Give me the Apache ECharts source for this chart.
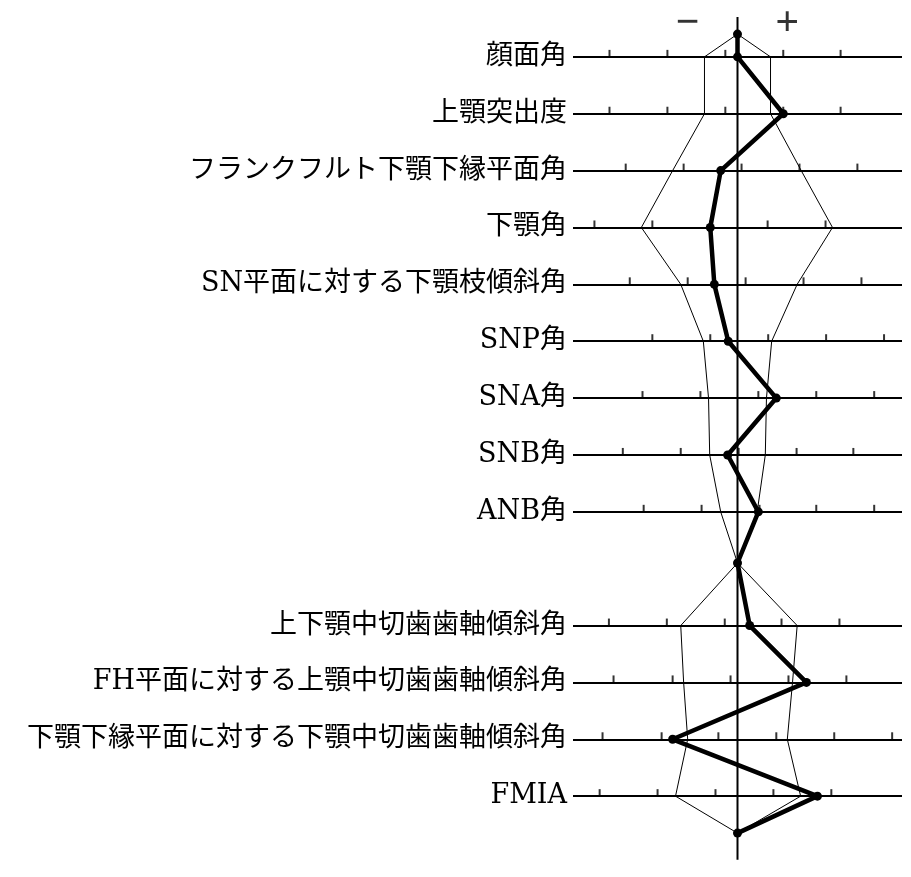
<!DOCTYPE html>
<html>
<head>
<meta charset="utf-8">
<script src="https://cdn.jsdelivr.net/npm/echarts@6/dist/echarts.min.js"></script>
<style>
html, body { margin: 0; padding: 0; background: #fff; }
#chart { width: 911px; height: 877px; }
</style>
</head>
<body>
<div id="chart"></div>
<script>
// measurement names, one per horizontal line (row 10 is the gap)
var rowNames = ['顔面角', '上顎突出度', 'フランクフルト下顎下縁平面角', '下顎角',
	'SN平面に対する下顎枝傾斜角', 'SNP角', 'SNA角', 'SNB角', 'ANB角',
	'上下顎中切歯歯軸傾斜角', 'FH平面に対する上顎中切歯歯軸傾斜角',
	'下顎下縁平面に対する下顎中切歯歯軸傾斜角', 'FMIA'];
var rowPos = [1, 2, 3, 4, 5, 6, 7, 8, 9, 11, 12, 13, 14];

// deviation from the mean, in tick steps
var normLow = [-0.57, -0.57, -1.12, -1.66, -0.98, -0.59, -0.50, -0.48, -0.29,
	-0.98, -0.93, -0.86, -1.07];
var normHigh = [0.57, 0.57, 1.10, 1.64, 1.03, 0.59, 0.50, 0.48, 0.34,
	1.03, 0.95, 0.86, 1.09];
var patient = [0, 0.79, -0.29, -0.47, -0.40, -0.16, 0.67, -0.17, 0.36,
	0.21, 1.19, -1.12, 1.38];

// scale ticks on each line
var tickMarks = [
	[-2.21, -1.21, -0.21, 0.79, 1.78],
	[-2.21, -1.21, -0.21, 0.79, 1.78],
	[-1.93, -0.93, 0.07, 1.07, 2.07],
	[-2.47, -1.47, -0.47, 0.52, 1.52],
	[-1.86, -0.86, 0.14, 1.14, 2.14],
	[-1.47, -0.47, 0.53, 1.53, 2.53],
	[-1.64, -0.64, 0.36, 1.36, 2.36],
	[-1.98, -0.98, 0.02, 1.02, 2.00],
	[-1.62, -0.62, 0.38, 1.36, 2.36],
	[-2.22, -1.22, -0.22, 0.76, 1.76],
	[-2.14, -1.12, -0.12, 0.88, 1.88],
	[-2.33, -1.31, -0.33, 0.67, 1.67, 2.67],
	[-2.38, -1.38, -0.38, 0.62, 1.62]
];

// where the outlines meet the centre line
var topPos = 0.6;
var midPos = 9.9;
var bottomPos = 14.65;
var signNames = ['−', '+'];
var signX = [-0.86, 0.86];
var signY = 0.42;

var fontFam = "'DejaVu Serif', 'Noto Sans CJK JP', serif";

function chain(vals) {
	var pts = [[0, topPos]];
	for (var i = 0; i < 9; i++) pts.push([vals[i], rowPos[i]]);
	pts.push([0, midPos]);
	for (var j = 9; j < vals.length; j++) pts.push([vals[j], rowPos[j]]);
	pts.push([0, bottomPos]);
	return pts;
}

var tickData = [];
tickMarks.forEach(function (row, i) {
	row.forEach(function (x) { tickData.push([x, rowPos[i]]); });
});

var graph = echarts.init(document.getElementById('chart'));

var option = {
	animation: false,
	backgroundColor: '#fff',
	grid: { left: 573, right: 9, top: -2, height: 866.4 },
	xAxis: {
		type: 'value', min: -2.84, max: 2.84,
		show: false
	},
	yAxis: {
		type: 'value', inverse: true, min: 0, max: 15.2, interval: 1,
		axisLine: { show: false, onZero: false },
		axisTick: { show: false },
		splitLine: { show: false },
		axisLabel: {
			margin: 6,
			color: '#000',
			fontSize: 27,
			fontFamily: fontFam,
			formatter: function (v) {
				var i = rowPos.indexOf(v);
				return i < 0 ? '' : rowNames[i];
			}
		}
	},
	series: [{
		name: 'centre',
		type: 'line',
		data: [[0, 0.3], [0, 15.12]],
		clip: false,
		symbol: 'none',
		lineStyle: { color: '#000', width: 2 },
		markLine: {
			silent: true,
			symbol: 'none',
			label: { show: false },
			lineStyle: { color: '#000', width: 2, type: 'solid' },
			data: rowPos.map(function (k) { return { yAxis: k }; })
		}
	}, {
		name: 'ticks',
		type: 'scatter',
		data: tickData,
		symbol: 'rect',
		symbolSize: [2, 7],
		symbolOffset: [0, -3.5],
		itemStyle: { color: '#000' }
	}, {
		name: 'low',
		type: 'line',
		data: chain(normLow),
		symbol: 'none',
		lineStyle: { color: '#000', width: 1 }
	}, {
		name: 'high',
		type: 'line',
		data: chain(normHigh),
		symbol: 'none',
		lineStyle: { color: '#000', width: 1 }
	}, {
		name: 'patient',
		type: 'line',
		data: chain(patient),
		symbol: 'circle',
		symbolSize: 9,
		itemStyle: { color: '#000' },
		lineStyle: { color: '#000', width: 4.5 }
	}, {
		name: 'sign',
		type: 'scatter',
		data: signX.map(function (x) { return [x, signY]; }),
		symbolSize: 0,
		label: {
			show: true,
			position: 'inside',
			color: '#000',
			fontSize: 42,
			fontWeight: 'bold',
			fontFamily: "'Liberation Serif', serif",
			formatter: function (p) { return signNames[p.dataIndex]; }
		}
	}]
};

graph.setOption(option);
</script>
</body>
</html>
